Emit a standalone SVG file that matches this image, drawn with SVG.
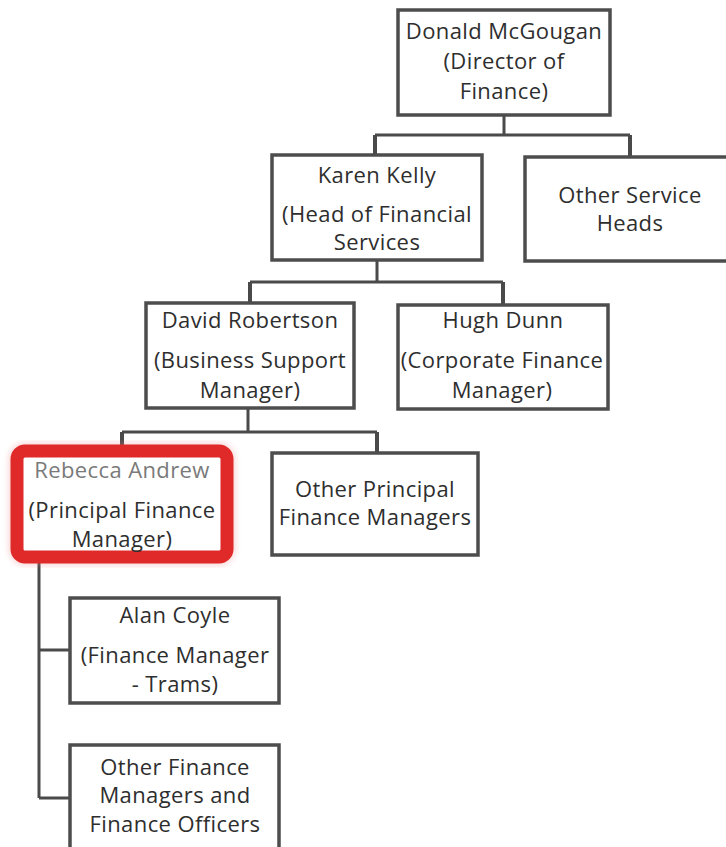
<svg xmlns="http://www.w3.org/2000/svg" width="726" height="847" viewBox="0 0 726 847">
  <style>
    .box { fill: #ffffff; stroke: #4d4d4d; stroke-width: 3.5; }
    .hl { fill: #ffffff; stroke: #e02a2a; stroke-width: 13; }
    .lbl { font-family: "Open Sans", "Liberation Sans", sans-serif; font-size: 22px; letter-spacing: 0.4px; fill: #2e2e2e; text-anchor: middle; }
    .dim { fill: #7a7a7a; }
    .conn path { fill: none; stroke: #4a4a4a; stroke-width: 3; }
    .conn .drop { stroke-width: 4; }
  </style>
  <defs>
    <filter id="glow" x="-10%" y="-10%" width="120%" height="120%">
      <feGaussianBlur stdDeviation="3"/>
    </filter>
  </defs>
  <rect width="726" height="847" fill="#ffffff"/>

  <!-- reporting lines -->
  <g id="connectors" class="conn">
    <path d="M504 115 V135 M375 135 H630"/>
    <path class="drop" d="M375 135 V155 M630 135 V157"/>
    <path d="M377 260 V282 M250 282 H503"/>
    <path class="drop" d="M250 282 V303 M503 282 V305"/>
    <path d="M248 408 V432 M122 432 H377"/>
    <path class="drop" d="M122 432 V446 M377 432 V453"/>
    <path d="M39 563 V798 M39 650 H70 M39 798 H70"/>
  </g>

  <g id="donald">
    <rect class="box" x="398" y="10" width="212" height="105"/>
    <text class="lbl" x="504" y="39">Donald McGougan</text>
    <text class="lbl" x="504" y="69">(Director of</text>
    <text class="lbl" x="504" y="99">Finance)</text>
  </g>

  <g id="karen">
    <rect class="box" x="272" y="155" width="210" height="105"/>
    <text class="lbl" x="377" y="183">Karen Kelly</text>
    <text class="lbl" x="377" y="222">(Head of Financial</text>
    <text class="lbl" x="377" y="250">Services</text>
  </g>

  <g id="other-service-heads">
    <rect class="box" x="525" y="157" width="210" height="104"/>
    <text class="lbl" x="630" y="203">Other Service</text>
    <text class="lbl" x="630" y="231">Heads</text>
  </g>

  <g id="david">
    <rect class="box" x="146" y="303" width="208" height="105"/>
    <text class="lbl" x="250" y="328">David Robertson</text>
    <text class="lbl" x="250" y="368">(Business Support</text>
    <text class="lbl" x="250" y="398">Manager)</text>
  </g>

  <g id="hugh">
    <rect class="box" x="398" y="305" width="210" height="104"/>
    <text class="lbl" x="503" y="328">Hugh Dunn</text>
    <text class="lbl" x="502" y="368">(Corporate Finance</text>
    <text class="lbl" x="502" y="398">Manager)</text>
  </g>

  <g id="rebecca">
    <rect x="17" y="451" width="210" height="106" rx="8" fill="none" stroke="#f08080" stroke-width="16" opacity="0.35" filter="url(#glow)"/>
    <rect class="hl" x="17" y="451" width="210" height="106" rx="8"/>
    <text class="lbl dim" x="122" y="478">Rebecca Andrew</text>
    <text class="lbl" x="122" y="518">(Principal Finance</text>
    <text class="lbl" x="122" y="547">Manager)</text>
  </g>

  <g id="other-principal">
    <rect class="box" x="272" y="453" width="206" height="102"/>
    <text class="lbl" x="375" y="497">Other Principal</text>
    <text class="lbl" x="375" y="525">Finance Managers</text>
  </g>

  <g id="alan">
    <rect class="box" x="70" y="598" width="209" height="105"/>
    <text class="lbl" x="175" y="623">Alan Coyle</text>
    <text class="lbl" x="175" y="663">(Finance Manager</text>
    <text class="lbl" x="175" y="692">- Trams)</text>
  </g>

  <g id="other-finance">
    <rect class="box" x="70" y="745" width="209" height="110"/>
    <text class="lbl" x="175" y="775">Other Finance</text>
    <text class="lbl" x="175" y="803">Managers and</text>
    <text class="lbl" x="175" y="832">Finance Officers</text>
  </g>
</svg>
